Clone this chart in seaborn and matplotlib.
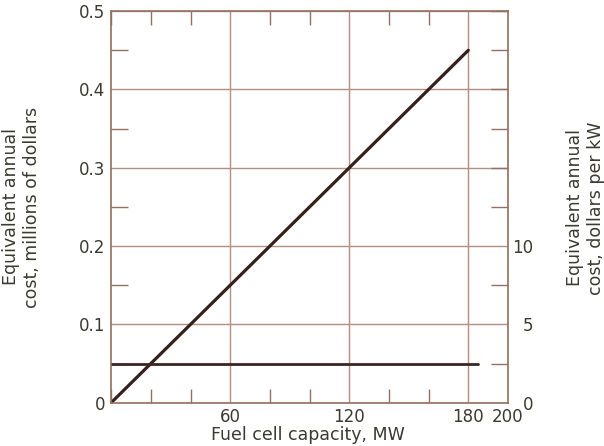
import matplotlib
matplotlib.use("Agg")
import matplotlib.pyplot as plt
from matplotlib.ticker import MultipleLocator, FixedLocator
import pandas as pd
import seaborn as sns

# values
capacity_mw = [0, 180]
annual_cost = [0.0, 0.45]
flat_capacity_mw = [0, 185]
flat_cost = [0.05, 0.05]

x_ticks = [60, 120, 180, 200]
x_tick_labels = ["60", "120", "180", "200"]
y_ticks = [0, 0.1, 0.2, 0.3, 0.4, 0.5]
y_tick_labels = ["0", "0.1", "0.2", "0.3", "0.4", "0.5"]
kw_ticks = [0, 5, 10]
kw_tick_labels = ["0", "5", "10"]

sns.set_style("white")
plt.rcParams["font.family"] = ["DejaVu Sans"]

grid_col = "#b48e7e"
spine_col = "#93705f"
line_col = "#35201b"
text_col = "#3b3a30"

fig = plt.figure(figsize=(6.04, 4.46), dpi=100)
ax = fig.add_axes([0.184, 0.097, 0.657, 0.878])

df = pd.DataFrame({"MW": capacity_mw, "cost": annual_cost})
df_flat = pd.DataFrame({"MW": flat_capacity_mw, "cost": flat_cost})
sns.lineplot(data=df, x="MW", y="cost", ax=ax, color=line_col, lw=2.3)
sns.lineplot(data=df_flat, x="MW", y="cost", ax=ax, color="#3e2420", lw=2.0)

ax.set_xlim(0, 200)
ax.set_ylim(0, 0.5)
ax.xaxis.set_major_locator(FixedLocator(x_ticks))
ax.set_xticklabels(x_tick_labels)
ax.xaxis.set_minor_locator(MultipleLocator(20))
ax.yaxis.set_major_locator(FixedLocator(y_ticks))
ax.set_yticklabels(y_tick_labels)
ax.yaxis.set_minor_locator(MultipleLocator(0.05))
ax.set_xlabel("")
ax.set_ylabel("")

ax2 = ax.twinx()
ax2.set_ylim(0, 25)
ax2.yaxis.set_major_locator(FixedLocator(kw_ticks))
ax2.set_yticklabels(kw_tick_labels)
ax2.yaxis.set_minor_locator(MultipleLocator(2.5))
ax2.tick_params(which="major", length=0, labelsize=12, labelcolor=text_col, pad=18)
ax2.tick_params(which="minor", direction="in", length=12, width=1.0, color=spine_col,
                right=True, left=False)
for lab in ax2.get_yticklabels():
    lab.set_horizontalalignment("right")
for s in ax2.spines.values():
    s.set_visible(False)

ax.grid(which="major", color=grid_col, lw=1.0)
ax.tick_params(which="major", length=0, labelsize=12, labelcolor=text_col, pad=4)
ax.tick_params(axis="x", which="minor", direction="in", length=10, width=1.0,
               color=spine_col, bottom=True, top=True)
ax.tick_params(axis="y", which="minor", direction="in", length=12, width=1.0,
               color=spine_col, left=True, right=False)
for s in ax.spines.values():
    s.set_color(spine_col)
    s.set_linewidth(1.2)

fig.text(0.036, 0.536, "Equivalent annual\ncost, millions of dollars", rotation=90,
         ha="center", va="center", fontsize=12.5, color=text_col, linespacing=1.2)
fig.text(0.969, 0.534, "Equivalent annual\ncost, dollars per kW", rotation=90,
         ha="center", va="center", fontsize=12.5, color=text_col, linespacing=1.2)
fig.text(0.51, 0.025, "Fuel cell capacity, MW", ha="center", va="center",
         fontsize=12.5, color=text_col)

fig.savefig("out.png", dpi=100)
